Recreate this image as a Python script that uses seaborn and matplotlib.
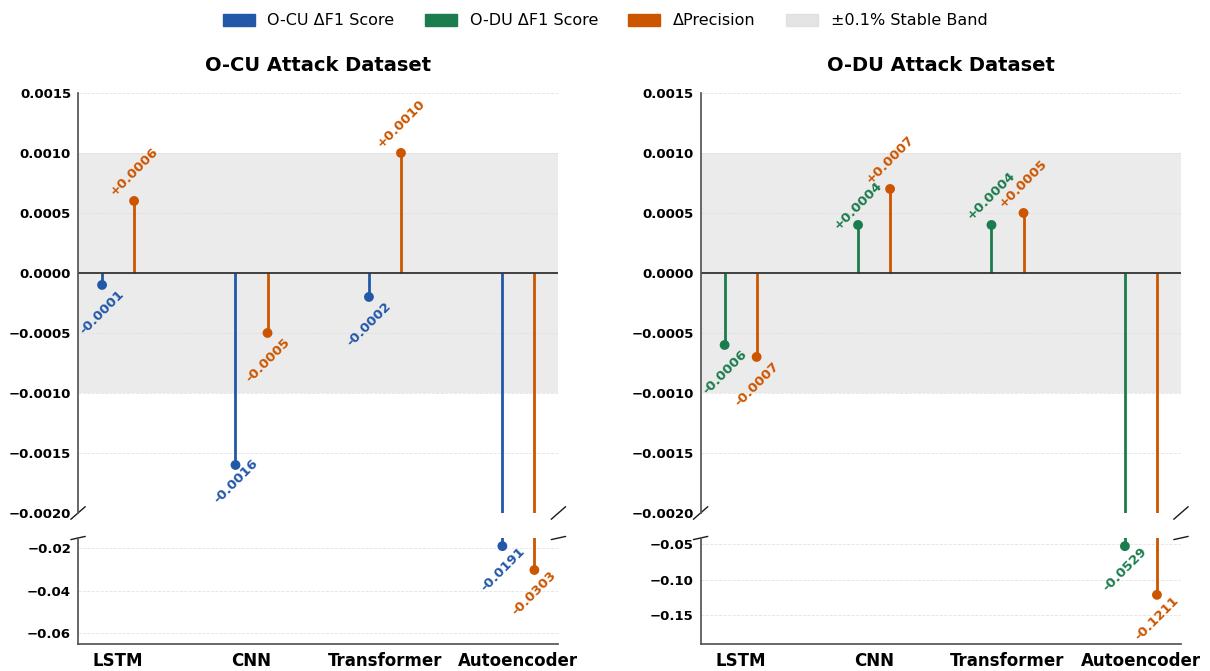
import numpy as np
import pandas as pd
import seaborn as sns
import matplotlib.pyplot as plt
from matplotlib.patches import Patch
from matplotlib.ticker import FuncFormatter

models = ["LSTM", "CNN", "Transformer", "Autoencoder"]
ocu_f1 = [-0.0001, -0.0016, -0.0002, -0.0191]
ocu_prec = [0.0006, -0.0005, 0.0010, -0.0303]
odu_f1 = [-0.0006, 0.0004, 0.0004, -0.0529]
odu_prec = [-0.0007, 0.0007, 0.0005, -0.1211]

titles = ["O-CU Attack Dataset", "O-DU Attack Dataset"]
top_ticks = [0.0015, 0.0010, 0.0005, 0.0, -0.0005, -0.0010, -0.0015, -0.0020]
bottom_ticks = [[-0.02, -0.04, -0.06], [-0.05, -0.10, -0.15]]
bottom_lims = [(-0.065, -0.0153), (-0.19, -0.0415)]

c_blue = "#2357a8"
c_green = "#1b7c4d"
c_orange = "#cc5500"
c_band = "#d9d9d9"

sns.set_theme(style="white")
plt.rcParams["font.family"] = ["DejaVu Sans"]
plt.rcParams["text.color"] = "black"
plt.rcParams["xtick.color"] = "black"
plt.rcParams["ytick.color"] = "black"

fig = plt.figure(figsize=(12.1, 6.71), dpi=100)

panels = [
    (ocu_f1, ocu_prec, c_blue, titles[0], 0.0645),
    (odu_f1, odu_prec, c_green, titles[1], 0.579),
]
w = 0.397
offset = 0.12


def minus_fmt(decimals):
    return FuncFormatter(lambda v, p: f"{v:.{decimals}f}".replace("-", "\u2212"))


for i, (f1, prec, f1_color, title, left) in enumerate(panels):
    ax_top = fig.add_axes([left, 0.2355, w, 0.626])
    ax_bot = fig.add_axes([left, 0.0402, w, 0.158])

    x = np.arange(len(models))
    df = pd.DataFrame({
        "x": np.concatenate([x - offset, x + offset]),
        "value": f1 + prec,
        "series": ["f1"] * len(models) + ["prec"] * len(models),
    })
    pal = {"f1": f1_color, "prec": c_orange}

    for ax in (ax_top, ax_bot):
        ax.axhspan(-0.001, 0.001, color=c_band, alpha=0.5, lw=0, zorder=0)
        ax.vlines(df["x"], 0, df["value"], colors=df["series"].map(pal), lw=2, zorder=2)
        sns.scatterplot(data=df, x="x", y="value", hue="series", palette=pal, s=50,
                        edgecolor="none", legend=False, ax=ax, zorder=3)
        ax.set_xlim(-0.3, 3.3)
        ax.grid(axis="y", ls="--", lw=0.6, color="#dddddd", alpha=0.8)
        ax.set_axisbelow(True)
        ax.set_xlabel("")
        ax.set_ylabel("")
        for s in ["top", "right"]:
            ax.spines[s].set_visible(False)
        ax.spines["left"].set_color("#555555")
        ax.spines["bottom"].set_color("#555555")
        ax.tick_params(axis="y", length=3, pad=2, color="#555555", labelsize=9.5,
                       labelcolor="black")

    ax_top.axhline(0, color="#333333", lw=1.3, zorder=2)
    ax_top.set_ylim(-0.002, 0.0015)
    ax_top.set_yticks(top_ticks)
    ax_top.yaxis.set_major_formatter(minus_fmt(4))
    ax_top.spines["bottom"].set_visible(False)
    ax_top.tick_params(axis="x", bottom=False, labelbottom=False)
    ax_top.set_title(title, fontsize=14, fontweight="bold", pad=16, color="black")

    ax_bot.set_ylim(*bottom_lims[i])
    ax_bot.set_yticks(bottom_ticks[i])
    ax_bot.yaxis.set_major_formatter(minus_fmt(2))
    ax_bot.set_xticks(x)
    ax_bot.set_xticklabels(models, fontsize=12, fontweight="bold")
    ax_bot.tick_params(axis="x", length=4, color="#555555", pad=2, labelcolor="black")

    for ax in (ax_top, ax_bot):
        for t in ax.get_yticklabels():
            t.set_fontweight("bold")

    # value labels (pull a label closer when it would run into its neighbour)
    for j in range(len(models)):
        for key, v in (("f1", f1[j]), ("prec", prec[j])):
            xv = j - offset if key == "f1" else j + offset
            txt = f"+{v:.4f}" if v > 0 else f"{v:.4f}"
            if v >= -0.002:
                ax = ax_top
                dy = 21 if v > 0 else -20
                if key == "f1" and v > 0 and prec[j] - v >= 0.00025:
                    dy = 14
                if v < -0.0015:
                    dy = -12
            else:
                ax = ax_bot
                dy = -17
            ax.annotate(txt, (xv, v), xytext=(0, dy), textcoords="offset points",
                        rotation=45, ha="center", va="center", fontsize=9.5,
                        fontweight="bold", color=pal[key], zorder=4)

    # break marks
    d = 0.015
    kw = dict(color="k", clip_on=False, lw=1)
    ax_top.plot((-d, +d), (-d, +d), transform=ax_top.transAxes, **kw)
    ax_top.plot((1 - d, 1 + d), (-d, +d), transform=ax_top.transAxes, **kw)
    ax_bot.plot((-d, +d), (1 - d, 1 + d), transform=ax_bot.transAxes, **kw)
    ax_bot.plot((1 - d, 1 + d), (1 - d, 1 + d), transform=ax_bot.transAxes, **kw)

handles = [
    Patch(color=c_blue, label="O-CU \u0394F1 Score"),
    Patch(color=c_green, label="O-DU \u0394F1 Score"),
    Patch(color=c_orange, label="\u0394Precision"),
    Patch(color=c_band, alpha=0.7, label="\u00b10.1% Stable Band"),
]
fig.legend(handles=handles, loc="center", bbox_to_anchor=(0.5, 0.969), ncol=4,
           frameon=False, fontsize=11.5, handlelength=2.0, handleheight=0.8,
           columnspacing=1.9)

fig.savefig("out.png", dpi=100)
